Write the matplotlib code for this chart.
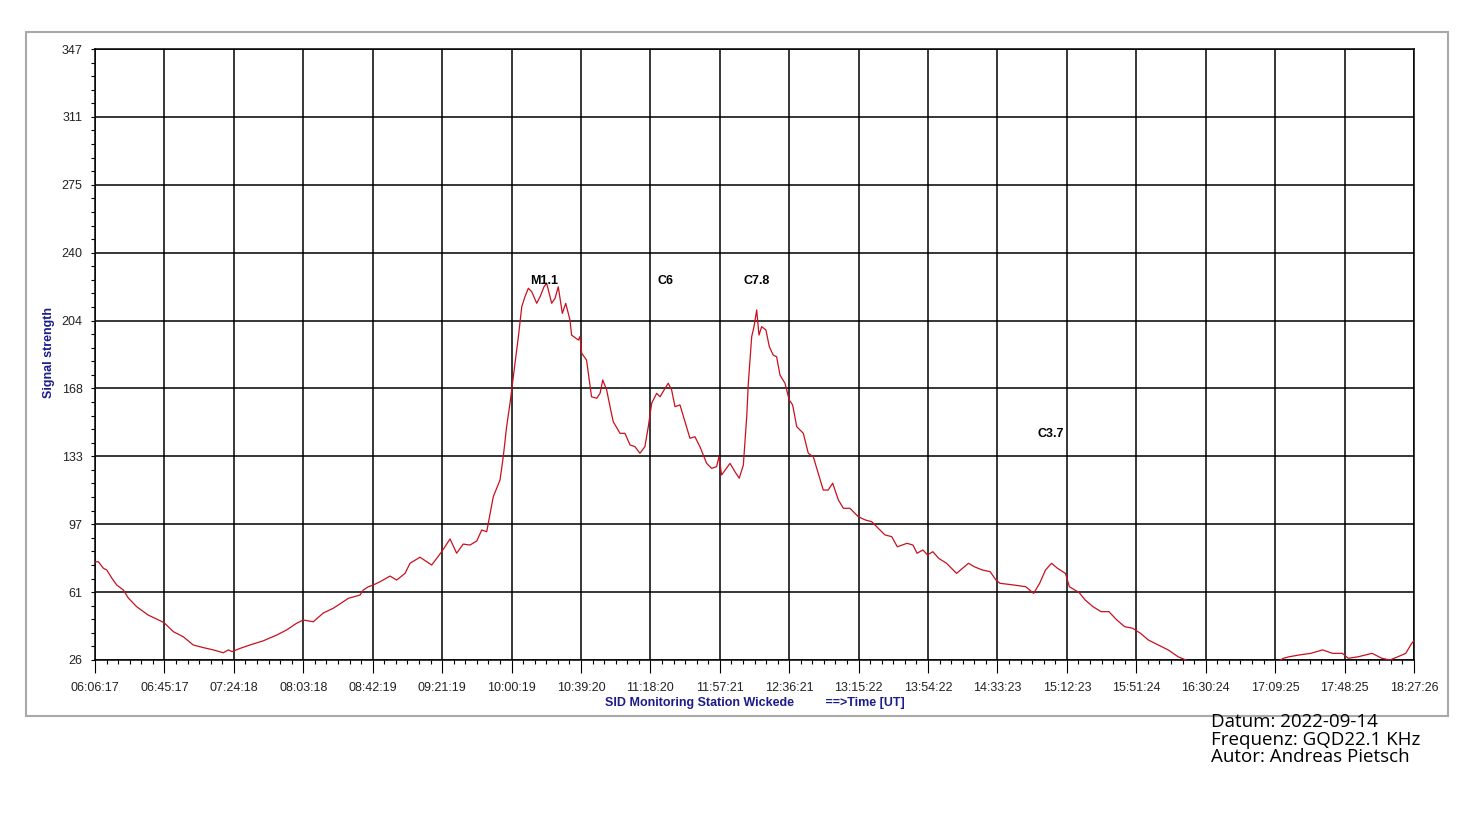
import numpy as np
import matplotlib
matplotlib.use('Agg')
import matplotlib.pyplot as plt
from matplotlib.patches import Rectangle
from matplotlib.ticker import AutoMinorLocator

plt.rcParams['font.family'] = ['Liberation Sans', 'DejaVu Sans']

# minutes after 06:06:17 UT
minutes = [0.0, 1.9, 4.7, 6.6, 9.4, 12.2, 15.9, 18.7, 23.4, 29.9, 34.7, 38.8, 44.0, 49.6,
           55.2, 60.9, 66.5, 72.1, 74.9, 77.1, 81.5, 87.1, 94.6, 102.1, 107.7, 113.3,
           117.0, 122.7, 128.3, 133.9, 139.5, 142.3, 145.1, 148.9, 150.8, 153.6, 156.4,
           160.1, 165.8, 169.5, 174.2, 177.0, 182.6, 189.2, 194.8, 199.5, 203.2, 206.9,
           210.7, 214.5, 217.3, 220.1, 223.8, 227.6, 229.4, 231.3, 233.2, 234.1, 236.0,
           237.9, 239.8, 241.6, 243.5, 245.4, 248.2, 250.1, 252.3, 253.8, 256.6, 258.5,
           260.3, 262.6, 264.5, 266.9, 267.8, 271.6, 272.5, 273.5, 276.2, 279.0, 281.9,
           283.8, 285.3, 287.5, 289.4, 291.2, 295.0, 297.8, 300.6, 303.4, 306.2, 309.0,
           310.9, 312.8, 315.6, 317.5, 320.3, 322.1, 324.0, 325.9, 328.7, 331.5, 334.3,
           337.1, 339.9, 343.7, 346.5, 349.3, 350.6, 352.1, 356.8, 359.6, 362.0, 364.3,
           366.2, 367.1, 369.0, 370.3, 371.8, 373.1, 374.6, 377.0, 378.9, 381.1, 383.0,
           384.9, 387.7, 390.1, 392.0, 394.3, 398.0, 400.8, 403.6, 406.4, 409.2, 412.0,
           414.5, 417.7, 420.5, 424.2, 428.9, 432.7, 436.4, 440.1, 443.9, 447.7, 450.8,
           456.3, 459.6, 461.9, 465.2, 467.8, 470.8, 474.1, 478.5, 484.1, 490.8, 494.1,
           498.5, 503.0, 506.3, 508.5, 516.3, 523.0, 527.4, 530.8, 534.1, 537.5, 540.8,
           545.3, 547.5, 553.0, 556.4, 560.8, 565.3, 569.7, 574.2, 578.6, 583.0, 587.5,
           591.9, 597.5, 603.0, 608.6, 613.0, 620.9, 637.7, 654.6, 664.7, 667.7, 671.0,
           676.4, 683.1, 689.8, 695.4, 700.9, 704.2, 709.8, 717.6, 723.1, 727.6, 732.1,
           736.5, 739.9, 741.2]

signal = [77.6, 77.6, 74.2, 73.3, 69.1, 65.4, 62.8, 58.6, 54.0, 49.6, 47.5, 45.6, 40.9, 38.2,
          33.9, 32.5, 31.3, 29.8, 31.3, 30.4, 32.1, 33.9, 36.1, 39.1, 41.8, 45.3,
          47.0, 46.1, 50.7, 53.2, 56.6, 58.4, 59.1, 60.1, 62.8, 64.5, 65.4,
          67.1, 70.1, 68.0, 71.5, 76.8, 80.0, 75.9, 82.9, 89.6, 82.1, 86.9,
          86.4, 88.5, 94.3, 93.4, 111.8, 120.6, 132.8, 148.6, 160.9, 167.8, 181.9,
          195.9, 211.6, 216.9, 221.3, 219.5, 213.4, 216.9, 222.1, 223.9, 213.4, 216.0,
          222.1, 208.1, 213.4, 204.6, 196.7, 194.1, 195.9, 187.1, 183.6, 164.3, 163.5,
          166.1, 173.1, 167.9, 159.1, 151.2, 145.1, 145.1, 139.0, 138.1, 134.6, 138.1,
          148.6, 160.9, 166.1, 164.3, 168.7, 171.4, 167.9, 159.1, 160.0, 151.2, 142.5,
          143.3, 138.1, 129.3, 126.7, 127.6, 132.8, 123.2, 129.3, 124.9, 121.5, 128.4,
          153.8, 171.4, 195.9, 201.1, 209.9, 196.7, 201.1, 199.4, 190.6, 186.2, 185.3,
          175.7, 171.4, 162.6, 160.0, 148.6, 145.1, 134.6, 132.8, 124.1, 115.3, 115.3,
          118.9, 110.1, 105.7, 105.7, 101.3, 99.6, 98.7, 95.2, 91.7, 90.8, 85.5,
          87.3, 86.4, 82.1, 83.8, 81.2, 82.9, 79.4, 76.8, 71.5, 76.8, 75.0,
          73.3, 72.4, 68.0, 66.3, 65.4, 64.5, 61.0, 66.3, 73.3, 76.8, 74.2,
          71.5, 64.5, 61.4, 57.5, 54.0, 51.4, 51.4, 47.0, 43.5, 42.7, 40.0,
          36.5, 33.9, 31.3, 27.7, 26.0, 24.0, 22.0, 23.0, 25.2, 26.9, 27.7,
          28.6, 29.5, 31.3, 29.5, 29.5, 26.9, 27.7, 29.5, 26.9, 26.0, 27.7,
          29.5, 34.8, 36.1]

time_labels = ['06:06:17', '06:45:17', '07:24:18', '08:03:18', '08:42:19', '09:21:19',
               '10:00:19', '10:39:20', '11:18:20', '11:57:21', '12:36:21', '13:15:22',
               '13:54:22', '14:33:23', '15:12:23', '15:51:24', '16:30:24', '17:09:25',
               '17:48:25', '18:27:26']
y_labels = ['26', '61', '97', '133', '168', '204', '240', '275', '311', '347']

flare_names = ['M1.1', 'C6', 'C7.8', 'C3.7']
flare_minutes = [252.3, 320.8, 372.0, 537.2]
flare_levels = [225.1, 225.1, 225.1, 144.7]

t_end = 741.15
y_min, y_max = 26, 347

fig = plt.figure(figsize=(14.61, 8.33), dpi=100)
ax = fig.add_axes([95/1461, 1-660/833, 1319/1461, 611/833])

ax.plot(minutes, signal, color='#c8101e', lw=0.9, zorder=3)

ax.set_xlim(0, t_end)
ax.set_ylim(y_min, y_max)
ax.set_xticks(np.linspace(0, t_end, len(time_labels)))
ax.set_xticklabels(time_labels)
ax.set_yticks(np.linspace(y_min, y_max, len(y_labels)))
ax.set_yticklabels(y_labels)
ax.xaxis.set_minor_locator(AutoMinorLocator(6))
ax.yaxis.set_minor_locator(AutoMinorLocator(5))

ax.grid(True, which='major', color='black', lw=1.1, zorder=1)
for s in ax.spines.values():
    s.set_color('black')
    s.set_linewidth(1.1)

ax.tick_params(axis='x', which='major', length=9, width=0.8, pad=7, labelsize=9, labelcolor='#222222')
ax.tick_params(axis='x', which='minor', length=3, width=0.8)
ax.tick_params(axis='y', which='both', length=3, width=0.8, pad=6, labelsize=9, labelcolor='#222222')

for name, tm, lv in zip(flare_names, flare_minutes, flare_levels):
    ax.text(tm, lv, name, ha='center', va='center', fontsize=9, fontweight='bold', color='black', zorder=4)

ax.set_ylabel('Signal strength', color='#1c1c8c', fontsize=9, fontweight='bold')
ax.yaxis.set_label_coords(-0.0303, 0.503)
ax.set_xlabel('SID Monitoring Station Wickede         ==>Time [UT]', color='#1c1c8c',
              fontsize=9, fontweight='bold')
ax.xaxis.set_label_coords(0.5, -0.06)

# grey outer frame
fig.patches.append(Rectangle((26/1461, 1-716/833), 1422/1461, 684/833,
                             transform=fig.transFigure, fill=False,
                             edgecolor='#a8a8a8', lw=1.5))

fig.text(1211/1461, 1-713/833, 'Datum: 2022-09-14\nFrequenz: GQD22.1 KHz\nAutor: Andreas Pietsch',
         ha='left', va='top', fontsize=13.5, family=['Open Sans', 'DejaVu Sans'],
         linespacing=0.98, color='black')

fig.savefig('out.png', dpi=100)
